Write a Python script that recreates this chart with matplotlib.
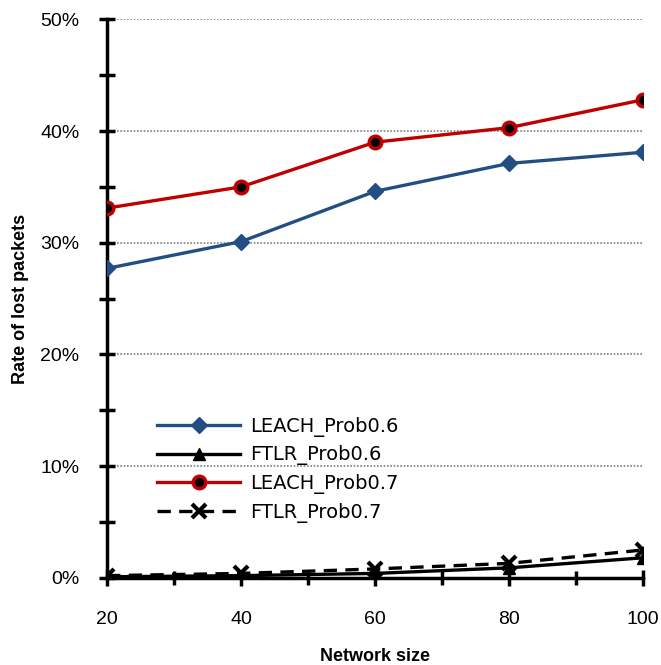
import matplotlib
matplotlib.use("Agg")
import matplotlib.pyplot as plt
from matplotlib.ticker import MultipleLocator, FuncFormatter

network_size = [20, 40, 60, 80, 100]
leach_06 = [27.7, 30.1, 34.6, 37.1, 38.1]
ftlr_06 = [0.1, 0.2, 0.4, 0.9, 1.8]
leach_07 = [33.1, 35.0, 39.0, 40.3, 42.8]
ftlr_07 = [0.2, 0.4, 0.8, 1.3, 2.5]

plt.rcParams['font.family'] = ['Liberation Sans', 'DejaVu Sans']

fig = plt.figure(figsize=(6.61, 6.65), dpi=100)
ax = fig.add_axes([0.162, 0.131, 0.811, 0.840])

ax.plot(network_size, leach_06, color='#234E84', lw=2.4, marker='D', ms=8,
        mfc='#234E84', mec='#234E84', label='LEACH_Prob0.6', zorder=3)
ax.plot(network_size, ftlr_06, color='black', lw=2.4, marker='^', ms=8,
        mfc='black', mec='black', label='FTLR_Prob0.6', zorder=3)
ax.plot(network_size, leach_07, color='#C00000', lw=2.4, marker='o', ms=9,
        mfc='black', mec='#C00000', mew=2.5, label='LEACH_Prob0.7', zorder=3)
ax.plot(network_size, ftlr_07, color='black', lw=2.4, ls=(0, (4, 2.5)), marker='x', ms=10,
        mew=3, mec='black', label='FTLR_Prob0.7', zorder=3)

ax.set_xlim(20, 100)
ax.set_ylim(0, 50)
ax.xaxis.set_major_locator(MultipleLocator(20))
ax.xaxis.set_minor_locator(MultipleLocator(10))
ax.yaxis.set_major_locator(MultipleLocator(10))
ax.yaxis.set_minor_locator(MultipleLocator(5))
ax.yaxis.set_major_formatter(FuncFormatter(lambda v, p: f"{int(v)}%"))

for s in ['top', 'right']:
    ax.spines[s].set_visible(False)
for s in ['left', 'bottom']:
    ax.spines[s].set_linewidth(2.5)
    ax.spines[s].set_color('black')

ax.tick_params(axis='both', which='both', direction='inout', width=2.5, color='black')
ax.tick_params(axis='y', which='major', length=12, labelsize=14, pad=14)
ax.tick_params(axis='y', which='minor', length=12)
ax.tick_params(axis='x', which='major', length=12, labelsize=14, pad=18)
ax.tick_params(axis='x', which='minor', length=10)

ax.grid(axis='y', which='major', color='#808080', ls=(0, (1, 1)), lw=1.2)
ax.set_axisbelow(True)

ax.set_xlabel('Network size', fontsize=13, fontweight='bold', labelpad=14)
ax.set_ylabel('Rate of lost packets', fontsize=13, fontweight='bold', labelpad=8)

leg = ax.legend(loc='upper left', bbox_to_anchor=(0.06, 0.32), frameon=False,
                prop={'family': 'DejaVu Sans', 'size': 14}, handlelength=4.3,
                labelspacing=0.45, handletextpad=0.5)

fig.savefig('out.png', dpi=100)
